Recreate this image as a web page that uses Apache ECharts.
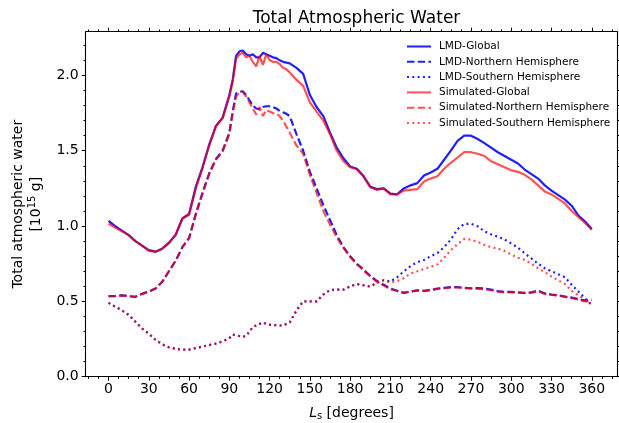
<!DOCTYPE html>
<html>
<head>
<meta charset="utf-8">
<script src="https://cdn.jsdelivr.net/npm/echarts@6/dist/echarts.min.js"></script>
<style>
  html, body { margin: 0; padding: 0; background: #fff; }
  #chart { width: 619px; height: 423px; }
</style>
</head>
<body>
<div id="chart"></div>
<script>
// Solar longitude (degrees)
const ls = [0,5,10,15,20,25,30,35,40,45,50,55,60,65,70,75,80,85,90,
  92.5,95,97.5,100,102.5,105,107.5,110,112.5,115,117.5,120,122.5,125,127.5,130,132.5,135,
  140,145,150,155,160,165,170,175,180,185,190,195,200,205,210,215,220,225,230,235,240,245,
  250,255,260,265,270,275,280,285,290,295,300,305,310,315,320,325,330,335,340,345,350,355,360];

// Total atmospheric water, 10^15 g
const lmdGlobal = [1.035,1.0,0.97,0.94,0.9,0.87,0.84,0.83,0.85,0.89,0.94,1.05,1.08,1.26,1.39,1.54,1.665,1.72,1.87,
  1.97,2.13,2.16,2.165,2.14,2.13,2.14,2.12,2.12,2.15,2.14,2.13,2.12,2.115,2.1,2.09,2.085,2.08,
  2.05,2.01,1.87,1.79,1.73,1.62,1.52,1.45,1.395,1.38,1.33,1.26,1.245,1.25,1.215,1.21,1.25,1.27,1.285,1.335,1.355,1.38,
  1.44,1.5,1.565,1.6,1.6,1.578,1.55,1.52,1.49,1.465,1.44,1.415,1.375,1.345,1.315,1.27,1.235,1.205,1.175,1.135,1.07,1.03,0.98];
const lmdNorth = [0.535,0.535,0.54,0.535,0.53,0.55,0.565,0.585,0.63,0.7,0.77,0.86,0.92,1.08,1.22,1.35,1.445,1.5,1.62,
  1.76,1.88,1.89,1.895,1.87,1.835,1.8,1.78,1.775,1.79,1.795,1.795,1.79,1.78,1.765,1.755,1.745,1.73,
  1.61,1.5,1.36,1.25,1.14,1.04,0.94,0.86,0.8,0.75,0.71,0.67,0.635,0.61,0.585,0.57,0.556,0.565,0.573,0.57,0.575,0.585,
  0.59,0.595,0.595,0.59,0.587,0.588,0.585,0.578,0.568,0.563,0.563,0.56,0.556,0.56,0.572,0.553,0.545,0.54,0.532,0.525,0.515,0.505,0.51];
const lmdSouth = [0.49,0.465,0.44,0.41,0.365,0.32,0.285,0.245,0.215,0.195,0.185,0.18,0.18,0.19,0.2,0.21,0.22,0.235,0.255,
  0.28,0.275,0.27,0.265,0.27,0.3,0.33,0.34,0.35,0.36,0.35,0.345,0.343,0.342,0.34,0.34,0.35,0.36,
  0.44,0.5,0.5,0.5,0.545,0.575,0.578,0.578,0.6,0.615,0.607,0.598,0.625,0.64,0.632,0.66,0.7,0.735,0.76,0.775,0.8,0.82,
  0.86,0.91,0.98,1.015,1.015,0.998,0.965,0.945,0.93,0.91,0.885,0.855,0.82,0.785,0.75,0.72,0.7,0.68,0.66,0.61,0.565,0.52,0.475];
const simGlobal = [1.015,0.99,0.965,0.94,0.9,0.87,0.835,0.83,0.85,0.885,0.945,1.05,1.075,1.25,1.385,1.535,1.66,1.715,1.86,
  1.96,2.11,2.14,2.15,2.12,2.13,2.09,2.06,2.13,2.07,2.14,2.1,2.09,2.09,2.075,2.05,2.04,2.02,
  1.97,1.93,1.82,1.76,1.7,1.61,1.5,1.43,1.39,1.375,1.33,1.26,1.24,1.25,1.21,1.21,1.235,1.24,1.245,1.295,1.315,1.33,
  1.38,1.42,1.455,1.49,1.49,1.48,1.465,1.43,1.41,1.39,1.37,1.36,1.34,1.31,1.27,1.23,1.21,1.18,1.15,1.1,1.06,1.02,0.975];
const simNorth = [0.535,0.535,0.54,0.535,0.53,0.55,0.565,0.585,0.63,0.7,0.77,0.86,0.92,1.075,1.215,1.345,1.44,1.495,1.61,
  1.75,1.86,1.885,1.89,1.86,1.82,1.78,1.74,1.79,1.73,1.77,1.76,1.75,1.745,1.73,1.7,1.66,1.62,
  1.535,1.48,1.34,1.22,1.1,1.01,0.925,0.855,0.795,0.745,0.705,0.665,0.63,0.605,0.58,0.57,0.558,0.565,0.572,0.568,0.576,0.583,
  0.588,0.592,0.592,0.588,0.585,0.583,0.58,0.575,0.565,0.56,0.56,0.558,0.555,0.558,0.565,0.55,0.543,0.538,0.53,0.522,0.512,0.5,0.5];
const simSouth = [0.49,0.465,0.44,0.41,0.365,0.32,0.285,0.245,0.215,0.195,0.185,0.18,0.18,0.19,0.2,0.21,0.22,0.235,0.255,
  0.28,0.275,0.27,0.265,0.27,0.3,0.33,0.34,0.35,0.36,0.35,0.345,0.343,0.342,0.34,0.34,0.35,0.36,
  0.44,0.5,0.5,0.5,0.545,0.575,0.578,0.578,0.6,0.615,0.607,0.598,0.625,0.64,0.625,0.635,0.655,0.685,0.7,0.715,0.73,0.745,
  0.79,0.84,0.88,0.915,0.91,0.895,0.875,0.86,0.85,0.835,0.81,0.79,0.775,0.75,0.72,0.695,0.665,0.64,0.615,0.57,0.54,0.51,0.48];

// Axis ticks
const xMajor = [0,30,60,90,120,150,180,210,240,270,300,330,360];
const yMajor = [0,0.5,1.0,1.5,2.0];
const xMinor = [];
for (let v = -15; v <= 375; v += 7.5) if (v % 30 !== 0) xMinor.push(v);
const yMinor = [];
for (let i = 0; i <= 22; i++) if (i % 5 !== 0) yMinor.push(i / 10);

const X_MIN = -17, X_MAX = 379, Y_MIN = 0, Y_MAX = 2.29;
const FONT = 'DejaVu Sans';
const BLUE = '#0000ff', RED = '#ff0000';
const DASH = [7.5, 3.2], DOT = [2, 3.3];

function pairs(ys) { return ls.map((x, i) => [x, ys[i]]); }

function line(name, ys, color, type, opacity) {
  return {
    name, type: 'line', data: pairs(ys), symbol: 'none', smooth: false,
    xAxisIndex: 0, yAxisIndex: 0,
    itemStyle: { color },
    lineStyle: { color, width: 2.2, type, opacity },
    emphasis: { disabled: true }, animation: false
  };
}

function xAx(position, ticks, len, withLabels, withLine) {
  return {
    type: 'value', position, min: X_MIN, max: X_MAX,
    axisLine: { show: withLine, onZero: false, lineStyle: { color: '#000', width: 1.1 } },
    axisTick: { show: true, customValues: ticks, length: len, inside: false, lineStyle: { color: '#000', width: 1 } },
    axisLabel: withLabels ? { show: true, customValues: ticks, color: '#000', fontFamily: FONT, fontSize: 14, margin: 6 } : { show: false },
    splitLine: { show: false }
  };
}
function yAx(position, ticks, len, withLabels, withLine) {
  return {
    type: 'value', position, min: Y_MIN, max: Y_MAX,
    axisLine: { show: withLine, onZero: false, lineStyle: { color: '#000', width: 1.1 } },
    axisTick: { show: true, customValues: ticks, length: len, inside: false, lineStyle: { color: '#000', width: 1 } },
    axisLabel: withLabels ? { show: true, customValues: ticks, color: '#000', fontFamily: FONT, fontSize: 14, margin: 7,
      formatter: v => v.toFixed(1) } : { show: false },
    splitLine: { show: false }
  };
}

const xMain = xAx('bottom', xMajor, 4, true, true);
xMain.name = '{it|L}{sub|s} [degrees]';
xMain.nameLocation = 'middle';
xMain.nameGap = 29;
xMain.nameTextStyle = {
  color: '#000', fontFamily: FONT, fontSize: 14,
  rich: {
    it: { fontStyle: 'italic', fontFamily: FONT, fontSize: 14, color: '#000' },
    sub: { fontFamily: FONT, fontSize: 10, color: '#000', verticalAlign: 'bottom', padding: [6, 0, 0, 0] }
  }
};

const yMain = yAx('left', yMajor, 4, true, true);
yMain.name = 'Total atmospheric water\n[10{sup|15} g]';
yMain.nameLocation = 'middle';
yMain.nameRotate = 90;
yMain.nameGap = 40;
yMain.nameTextStyle = {
  color: '#000', fontFamily: FONT, fontSize: 14, lineHeight: 18, align: 'center',
  rich: {
    sup: { fontFamily: FONT, fontSize: 10, color: '#000', verticalAlign: 'top', padding: [0, 0, 6, 0] }
  }
};

const chart = echarts.init(document.getElementById('chart'), null, { renderer: 'canvas' });
chart.setOption({
  animation: false,
  backgroundColor: '#fff',
  title: {
    text: 'Total Atmospheric Water', left: 351.5, top: 5, textAlign: 'center',
    textStyle: { fontFamily: FONT, fontSize: 17, fontWeight: 'normal', color: '#000' }
  },
  grid: { left: 85.7, right: 1.7, top: 31.7, bottom: 46.3, containLabel: false, outerBoundsMode: 'none' },
  legend: {
    orient: 'vertical', left: 406, top: 41, padding: 0,
    itemWidth: 24, itemHeight: 12, itemGap: 4.3,
    itemStyle: { opacity: 0 },
    textStyle: { fontFamily: FONT, fontSize: 10.5, color: '#000', padding: [0, 0, 0, 3] },
    data: ['LMD-Global', 'LMD-Northern Hemisphere', 'LMD-Southern Hemisphere',
           'Simulated-Global', 'Simulated-Northern Hemisphere', 'Simulated-Southern Hemisphere']
  },
  xAxis: [
    xMain,
    xAx('bottom', xMinor, 2.2, false, false),
    xAx('top', xMajor, 4, false, true),
    xAx('top', xMinor, 2.2, false, false)
  ],
  yAxis: [
    yMain,
    yAx('left', yMinor, 2.2, false, false),
    yAx('right', yMajor, 4, false, true),
    yAx('right', yMinor, 2.2, false, false)
  ],
  series: [
    line('LMD-Global', lmdGlobal, BLUE, 'solid', 0.88),
    line('LMD-Northern Hemisphere', lmdNorth, BLUE, DASH, 0.88),
    line('LMD-Southern Hemisphere', lmdSouth, BLUE, DOT, 0.88),
    line('Simulated-Global', simGlobal, RED, 'solid', 0.68),
    line('Simulated-Northern Hemisphere', simNorth, RED, DASH, 0.68),
    line('Simulated-Southern Hemisphere', simSouth, RED, DOT, 0.68)
  ]
});
</script>
</body>
</html>
